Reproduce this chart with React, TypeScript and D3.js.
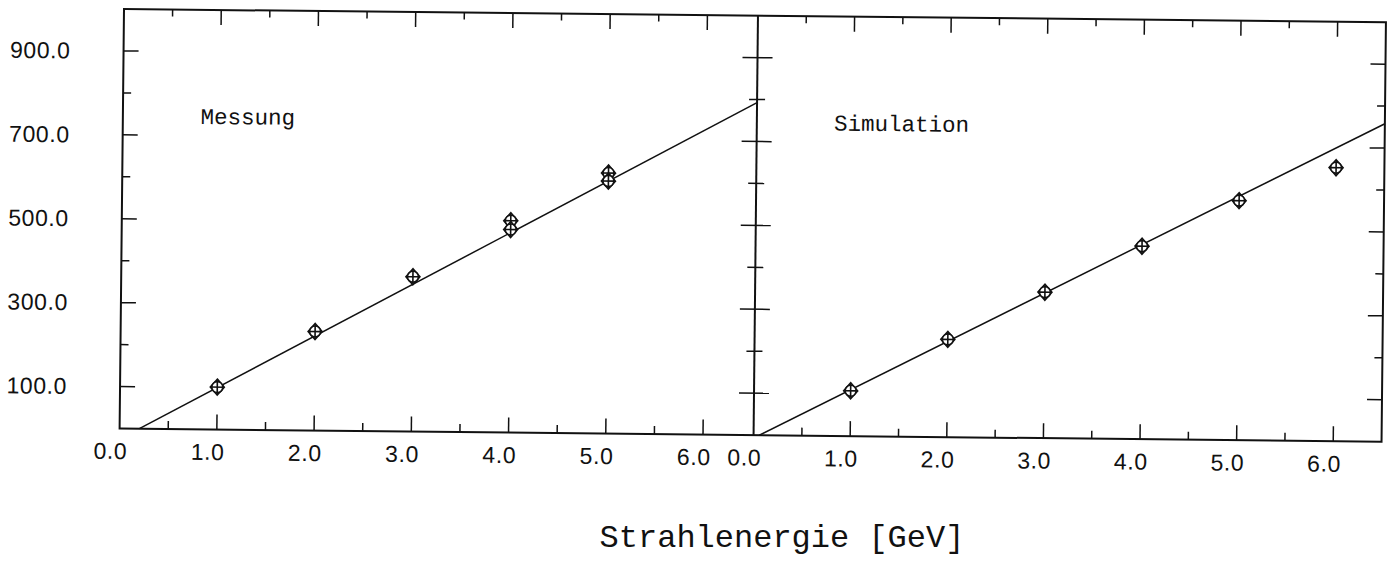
import React from 'react';
import * as d3 from 'd3';

// ---- data ----
const messungEnergy = [1, 2, 3, 4, 4, 5, 5];
const messungValue = [101, 236, 369, 505, 484, 621, 602];
const simulationEnergy = [1, 2, 3, 4, 5, 6];
const simulationValue = [108, 233, 348, 460, 571, 652];
const fitMessung = [125.5, -25.5]; // slope, intercept
const fitSimulation = [117.7, -7];
const yMajorTicks = [100, 300, 500, 700, 900];
const yMinorTicks = [200, 400, 600, 800];
const yTickLabels = ['100.0', '300.0', '500.0', '700.0', '900.0'];
const xMajorTicks = [0, 1, 2, 3, 4, 5, 6];
const xMinorTicks = [0.5, 1.5, 2.5, 3.5, 4.5, 5.5];
const xTickLabels = ['0.0', '1.0', '2.0', '3.0', '4.0', '5.0', '6.0'];
const panelLabels = ['Messung', 'Simulation'];
const labelPos = [0.8, 728];
const xTitle = 'Strahlenergie [GeV]';

const W = 1392;
const H = 562;
const TOP = 9;
const BOTTOM = 428.5;
const LEFT = 124;
const MID = 758;
const RIGHT = 1386;

const y = d3.scaleLinear().domain([0, 1000]).range([BOTTOM, TOP]);
const xL = d3.scaleLinear().domain([0, 6.52]).range([LEFT, MID]);
const xR = d3.scaleLinear().domain([0, 6.5]).range([MID, RIGHT]);

const tickFont = '"Liberation Sans", Arial, sans-serif';
const monoFont = '"Liberation Mono", "DejaVu Sans Mono", monospace';

function Marker({ cx, cy }: { cx: number; cy: number }) {
  const d = `M${cx},${cy - 8}L${cx + 7},${cy}L${cx},${cy + 8}L${cx - 7},${cy}Z`;
  return (
    <g stroke="#111" strokeWidth={1.6} fill="white">
      <path d={d} />
      <circle cx={cx} cy={cy} r={5.5} />
      <line x1={cx - 6} x2={cx + 6} y1={cy} y2={cy} />
      <line x1={cx} x2={cx} y1={cy - 7} y2={cy + 7} />
    </g>
  );
}

function Panel({
  x,
  ex,
  vy,
  fit,
  label,
  leftTicks,
  rightTicks,
}: {
  x: d3.ScaleLinear<number, number>;
  ex: number[];
  vy: number[];
  fit: number[];
  label: string;
  leftTicks: 'in' | 'cross' | 'none';
  rightTicks: 'in' | 'none';
}) {
  const [x0, x1] = x.domain();
  const [a, b] = fit;
  const start = Math.max(x0, -b / a);
  const lineGen = d3
    .line<number>()
    .x((e) => x(e))
    .y((e) => y(a * e + b));
  const [px0, px1] = x.range();
  return (
    <g>
      {/* bottom ticks */}
      {xMajorTicks.filter((t) => t > x0 && t < x1 - 0.05).map((t) => (
        <line key={'bM' + t} x1={x(t)} x2={x(t)} y1={BOTTOM} y2={BOTTOM - 15} stroke="#111" strokeWidth={1.5} />
      ))}
      {xMinorTicks.map((t) => (
        <line key={'bm' + t} x1={x(t)} x2={x(t)} y1={BOTTOM} y2={BOTTOM - 8} stroke="#111" strokeWidth={1.5} />
      ))}
      {/* top ticks */}
      {xMajorTicks.filter((t) => t > x0 && t < x1 - 0.05).map((t) => (
        <line key={'tM' + t} x1={x(t)} x2={x(t)} y1={TOP} y2={TOP + 15} stroke="#111" strokeWidth={1.5} />
      ))}
      {xMinorTicks.map((t) => (
        <line key={'tm' + t} x1={x(t)} x2={x(t)} y1={TOP} y2={TOP + 7} stroke="#111" strokeWidth={1.5} />
      ))}
      {/* left axis ticks */}
      {leftTicks !== 'none' &&
        yMajorTicks.map((v) => (
          <line
            key={'lM' + v}
            x1={leftTicks === 'cross' ? px0 - 15 : px0}
            x2={px0 + 15}
            y1={y(v)}
            y2={y(v)}
            stroke="#111"
            strokeWidth={1.5}
          />
        ))}
      {leftTicks !== 'none' &&
        yMinorTicks.map((v) => (
          <line
            key={'lm' + v}
            x1={leftTicks === 'cross' ? px0 - 8 : px0}
            x2={px0 + 8}
            y1={y(v)}
            y2={y(v)}
            stroke="#111"
            strokeWidth={1.5}
          />
        ))}
      {rightTicks === 'in' &&
        yMajorTicks.map((v) => (
          <line key={'rM' + v} x1={px1 - 15} x2={px1} y1={y(v)} y2={y(v)} stroke="#111" strokeWidth={1.5} />
        ))}
      {rightTicks === 'in' &&
        yMinorTicks.map((v) => (
          <line key={'rm' + v} x1={px1 - 8} x2={px1} y1={y(v)} y2={y(v)} stroke="#111" strokeWidth={1.5} />
        ))}
      {/* x tick labels */}
      {xMajorTicks.map((t, i) => (
        <text
          key={'xl' + t}
          x={x(t) - 9}
          y={459}
          textAnchor="middle"
          fontFamily={tickFont}
          fontSize={23}
          letterSpacing={0.6}
          fill="#111"
        >
          {xTickLabels[i]}
        </text>
      ))}
      {/* fit line */}
      <path d={lineGen([start, x1]) || ''} fill="none" stroke="#111" strokeWidth={1.5} />
      {/* markers */}
      {ex.map((e, i) => (
        <Marker key={'m' + i} cx={x(e)} cy={y(vy[i])} />
      ))}
      {/* panel label */}
      <text x={x(labelPos[0])} y={y(labelPos[1])} fontFamily={monoFont} fontSize={22.5} fill="#111">
        {label}
      </text>
    </g>
  );
}

export default function App() {
  return (
    <svg
      width={W}
      height={H}
      viewBox={`0 0 ${W} ${H}`}
      style={{ position: 'absolute', left: 0, top: 0, background: 'white' }}
    >
      <rect x={0} y={0} width={W} height={H} fill="white" />
      <g transform={`rotate(0.6 ${LEFT} ${TOP})`}>
        {/* y tick labels */}
        {yMajorTicks.map((v, i) => (
          <text
            key={'yl' + v}
            x={71}
            y={y(v) + 8}
            textAnchor="end"
            fontFamily={tickFont}
            fontSize={23}
            letterSpacing={0.6}
            fill="#111"
          >
            {yTickLabels[i]}
          </text>
        ))}
        <Panel
          x={xL}
          ex={messungEnergy}
          vy={messungValue}
          fit={fitMessung}
          label={panelLabels[0]}
          leftTicks="in"
          rightTicks="none"
        />
        <Panel
          x={xR}
          ex={simulationEnergy}
          vy={simulationValue}
          fit={fitSimulation}
          label={panelLabels[1]}
          leftTicks="cross"
          rightTicks="in"
        />
        {/* frame */}
        <rect x={LEFT} y={TOP} width={RIGHT - LEFT} height={BOTTOM - TOP} fill="none" stroke="#111" strokeWidth={2} />
        <line x1={MID} x2={MID} y1={TOP} y2={BOTTOM} stroke="#111" strokeWidth={2} />
      </g>
      <text x={782} y={547} textAnchor="middle" fontFamily={monoFont} fontSize={32} fill="#111">
        {xTitle}
      </text>
    </svg>
  );
}
